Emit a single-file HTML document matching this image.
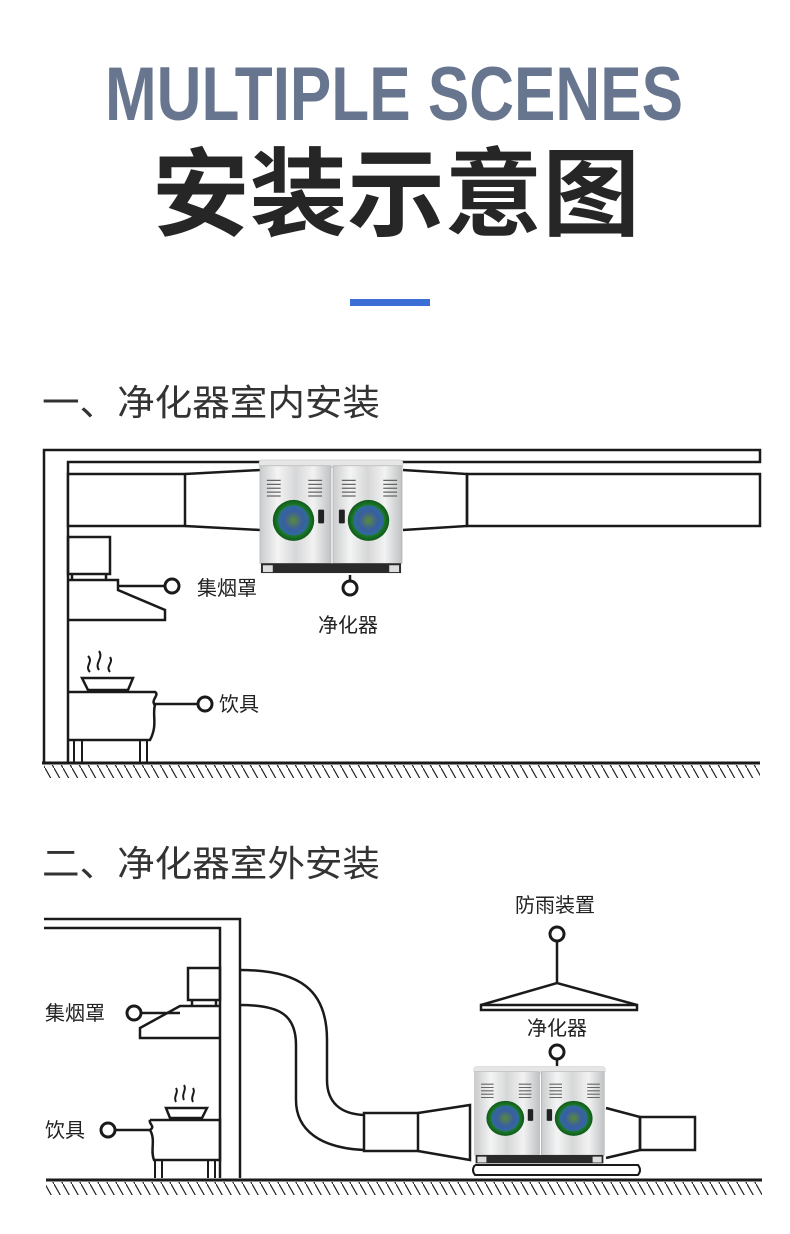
<!DOCTYPE html>
<html><head><meta charset="utf-8"><style>
html,body{margin:0;padding:0;background:#fff;}
svg{display:block;}
</style></head><body>
<svg width="790" height="1234" viewBox="0 0 790 1234" xmlns="http://www.w3.org/2000/svg">
<defs>
<linearGradient id="steel" x1="0" y1="0" x2="1" y2="0">
<stop offset="0" stop-color="#c9cbcd"/><stop offset="0.25" stop-color="#f4f4f4"/><stop offset="0.5" stop-color="#d6d7d8"/><stop offset="0.75" stop-color="#f2f2f2"/><stop offset="1" stop-color="#bfc1c3"/>
</linearGradient>
<radialGradient id="logo" cx="0.5" cy="0.5" r="0.5">
<stop offset="0" stop-color="#5a8a3a"/><stop offset="0.45" stop-color="#3a5ea0"/><stop offset="0.72" stop-color="#2f6a9c"/><stop offset="0.75" stop-color="#1d7a2a"/><stop offset="1" stop-color="#0f5a1a"/>
</radialGradient>
<pattern id="hatch" width="9" height="16" patternUnits="userSpaceOnUse">
<line x1="0" y1="0" x2="9" y2="16" stroke="#222" stroke-width="1.2"/>
</pattern>
<symbol id="unit" viewBox="0 0 150 120" preserveAspectRatio="none">
<rect x="2" y="2" width="146" height="8" rx="3" fill="#e6e6e6" stroke="#bbb" stroke-width="0.5"/>
<rect x="3" y="8" width="72" height="100" fill="url(#steel)" stroke="#aaa" stroke-width="0.6"/>
<rect x="77" y="8" width="70" height="100" fill="url(#steel)" stroke="#aaa" stroke-width="0.6"/>
<g stroke="#666" stroke-width="1.3" fill="none">
<path d="M10 23h14M10 27h14M10 31h14M10 35h14M10 39h14"/>
<path d="M52 23h14M52 27h14M52 31h14M52 35h14M52 39h14"/>
<path d="M86 23h14M86 27h14M86 31h14M86 35h14M86 39h14"/>
<path d="M128 23h14M128 27h14M128 31h14M128 35h14M128 39h14"/>
</g>
<circle cx="37" cy="64" r="21" fill="url(#logo)"/>
<circle cx="113" cy="64" r="21" fill="url(#logo)"/>
<rect x="62" y="53" width="6" height="14" rx="1" fill="#222"/>
<rect x="83" y="53" width="6" height="14" rx="1" fill="#222"/>
<rect x="4" y="108" width="142" height="10" fill="#2a2a2a"/>
<rect x="6" y="110" width="10" height="7" fill="#ddd"/>
<rect x="134" y="110" width="10" height="7" fill="#ddd"/>
</symbol>
</defs>

<text x="394" y="120" text-anchor="middle" font-family="Liberation Sans, sans-serif" font-weight="bold" font-size="76" fill="#67758f" textLength="578" lengthAdjust="spacingAndGlyphs">MULTIPLE SCENES</text>
<text x="396" y="228" text-anchor="middle" font-family="'Liberation Sans','Noto Sans CJK SC',sans-serif" font-weight="bold" font-size="96" fill="#262626" textLength="488" lengthAdjust="spacingAndGlyphs">安装示意图</text>
<rect x="350" y="299" width="80" height="7" fill="#3b6fd6"/>

<text x="42" y="415" font-family="'Liberation Sans','Noto Sans CJK SC',sans-serif" font-size="36" fill="#333" textLength="338" lengthAdjust="spacingAndGlyphs">一、净化器室内安装</text>
<text x="42" y="876" font-family="'Liberation Sans','Noto Sans CJK SC',sans-serif" font-size="36" fill="#333" textLength="338" lengthAdjust="spacingAndGlyphs">二、净化器室外安装</text>

<g fill="none" stroke="#1a1a1a" stroke-width="2.5">
<path d="M44 762V450H760V462H68V762"/>
<rect x="68" y="474" width="117" height="52" fill="#fff"/>
<path d="M185 474L260 470M185 526L260 530"/>
<path d="M403 470L467 474V526L403 530"/>
<rect x="467" y="474" width="293" height="52"/>
<rect x="68" y="537" width="42" height="37"/>
<path d="M72 574v6M106 574v6"/>
<path d="M68 580H118V590L165 610V620H68"/>
<path d="M118 586H165"/>
<circle cx="172" cy="586" r="7" stroke-width="3"/>
<path d="M350 575V581"/>
<circle cx="350" cy="588" r="7" stroke-width="3"/>
<path d="M90 672c-6-6 4-10-2-16M99 670c-5-7 5-12 0-19M110 672c-5-6 4-9 0-15" stroke-width="2"/>
<path d="M82 678H133L128 690H88Z"/>
<path d="M68 692H155C160 695 150 700 155 705C152 715 158 725 150 740H68"/>
<path d="M74 740V762M82 740V762M140 740V762M147 740V762" stroke-width="2"/>
<path d="M153 704H198"/>
<circle cx="205" cy="704" r="7" stroke-width="3"/>
<path d="M42 763H760" stroke-width="3"/>

<path d="M44 919H240V1178M44 928H220V1178"/>
<rect x="188" y="968" width="32" height="32"/>
<path d="M192 1000v6M216 1000v6"/>
<path d="M220 1006H180L140 1028V1038H220"/>
<path d="M141 1013H180"/>
<circle cx="134" cy="1013" r="7" stroke-width="3"/>
<path d="M176 1102c-3-6 3-9 0-14M184 1100c-3-6 3-10 0-15M193 1102c-3-6 3-9 0-14" stroke-width="2"/>
<path d="M166 1108H207L202 1118H170Z"/>
<path d="M150 1120H220V1160H154C150 1150 156 1140 150 1130C156 1126 148 1124 150 1120"/>
<path d="M155 1160V1178M162 1160V1178M208 1160V1178M215 1160V1178" stroke-width="2"/>
<path d="M115 1130H150"/>
<circle cx="108" cy="1130" r="7" stroke-width="3"/>
<path d="M240 970C300 970 327 990 327 1040V1080C327 1102 340 1114 364 1115"/>
<path d="M240 1005C280 1005 296 1015 296 1045V1100C296 1130 320 1148 364 1150"/>
<rect x="364" y="1113" width="54" height="38" fill="#fff"/>
<path d="M418 1113L470 1105V1160L418 1151"/>
<path d="M606 1108L640 1117V1150L606 1158"/>
<rect x="640" y="1117" width="55" height="33"/>
<path d="M475 1165H638Q642 1170 638 1175H475Q471 1170 475 1165" stroke-width="2"/>
<path d="M481 1005L557 983L637 1005"/>
<rect x="481" y="1005" width="156" height="5" fill="#fff"/>
<path d="M557 983V941"/>
<circle cx="557" cy="934" r="7" stroke-width="3"/>
<circle cx="557" cy="1052" r="7" stroke-width="3"/>
<path d="M557 1059V1066"/>
<path d="M46 1180H762" stroke-width="3"/>
</g>
<rect x="44" y="765" width="716" height="13" fill="url(#hatch)"/>
<rect x="46" y="1182" width="716" height="13" fill="url(#hatch)"/>

<use href="#unit" x="257" y="458" width="148" height="117"/>
<use href="#unit" x="472" y="1065" width="135" height="100"/>

<g font-family="'Liberation Sans','Noto Sans CJK SC',sans-serif" font-size="20" fill="#222">
<text x="197" y="595">集烟罩</text>
<text x="318" y="632">净化器</text>
<text x="219" y="711">饮具</text>
<text x="515" y="912">防雨装置</text>
<text x="527" y="1035">净化器</text>
<text x="45" y="1020">集烟罩</text>
<text x="45" y="1137">饮具</text>
</g>
</svg>
</body></html>
